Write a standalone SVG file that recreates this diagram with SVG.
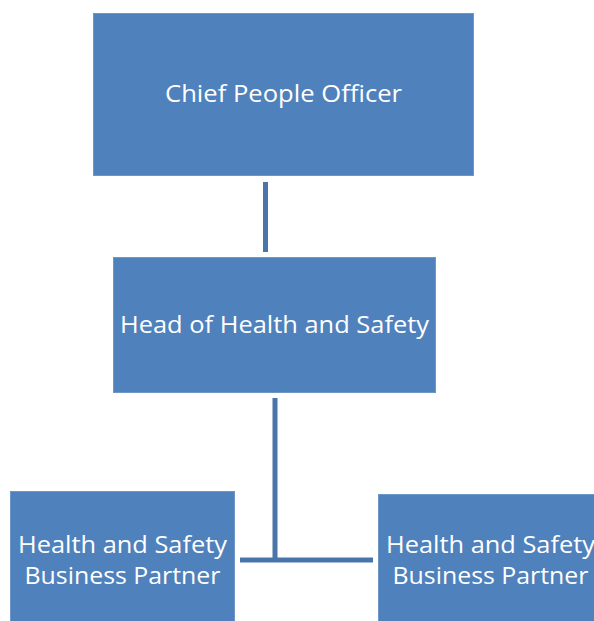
<svg xmlns="http://www.w3.org/2000/svg" width="594" height="621" viewBox="0 0 594 621">
  <style>
    .box { fill: #4F81BD; stroke: #6D96C9; stroke-width: 1; }
    .label { fill: #FFFFFF; font-family: "Open Sans", "Noto Sans", "Liberation Sans", sans-serif; font-size: 24px; text-anchor: middle; }
    .link { stroke: #4A75AB; stroke-width: 5; fill: none; }
  </style>
  <rect width="594" height="621" fill="#FFFFFF"/>

  <!-- reporting lines -->
  <g id="connectors">
    <line class="link" x1="265.5" y1="182" x2="265.5" y2="252"/>
    <line class="link" x1="275" y1="398" x2="275" y2="560"/>
    <line class="link" x1="240" y1="560" x2="373" y2="560"/>
  </g>

  <g id="chief-people-officer">
    <rect class="box" x="93.5" y="13.5" width="380" height="162"/>
    <text class="label" x="283.5" y="102" textLength="237" lengthAdjust="spacingAndGlyphs">Chief People Officer</text>
  </g>

  <g id="head-health-safety">
    <rect class="box" x="113.5" y="257.5" width="322" height="135"/>
    <text class="label" x="274.5" y="333" textLength="309" lengthAdjust="spacingAndGlyphs">Head of Health and Safety</text>
  </g>

  <g id="hs-partner-left">
    <rect class="box" x="10.5" y="491.5" width="224" height="140"/>
    <text class="label" x="122.5" y="553" textLength="209" lengthAdjust="spacingAndGlyphs">Health and Safety</text>
    <text class="label" x="122.5" y="584" textLength="196" lengthAdjust="spacingAndGlyphs">Business Partner</text>
  </g>

  <g id="hs-partner-right">
    <rect class="box" x="378.5" y="494.5" width="224" height="140"/>
    <text class="label" x="490.5" y="553" textLength="209" lengthAdjust="spacingAndGlyphs">Health and Safety</text>
    <text class="label" x="490.5" y="584" textLength="196" lengthAdjust="spacingAndGlyphs">Business Partner</text>
  </g>
</svg>
